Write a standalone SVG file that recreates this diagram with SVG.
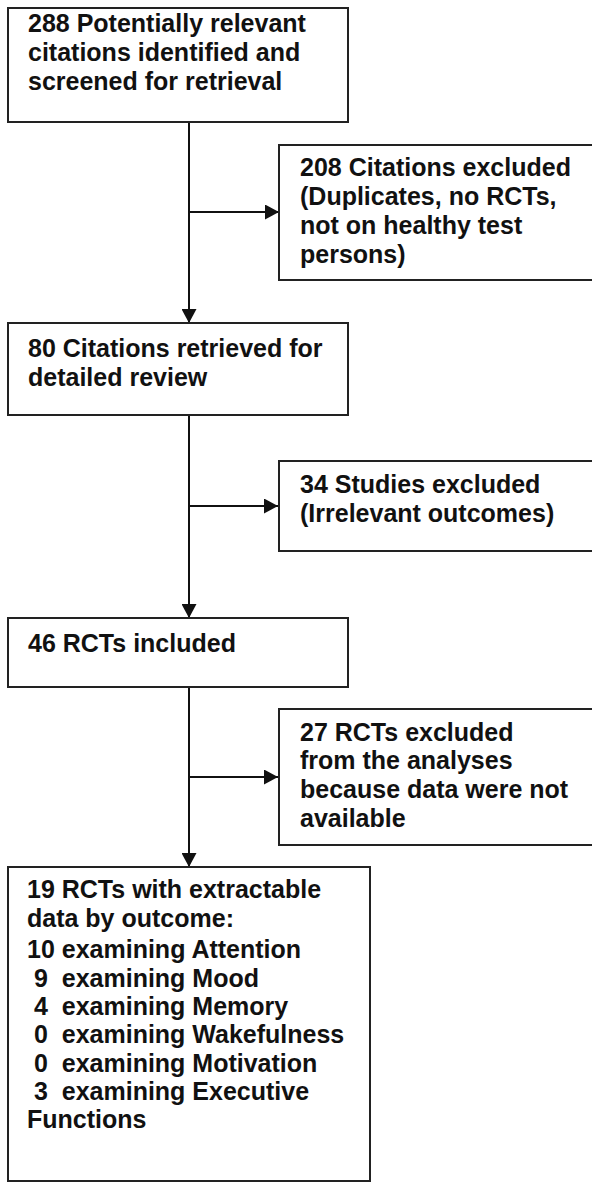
<svg xmlns="http://www.w3.org/2000/svg" width="592" height="1183" viewBox="0 0 592 1183">
<defs>
<style>
.box{fill:#fff;stroke:#222;stroke-width:2}
.t{font-family:"Liberation Sans",Arial,sans-serif;font-weight:bold;font-size:25px;fill:#111}
.c{stroke:#111;stroke-width:2;fill:none}
</style>
<marker id="ah" viewBox="0 0 14 15" refX="14" refY="7.5" markerWidth="14" markerHeight="15" markerUnits="userSpaceOnUse" orient="auto">
<path d="M0,0 L14,7.5 L0,15 Z" fill="#111"/>
</marker>
</defs>
<rect width="592" height="1183" fill="#fff"/>
<g id="connectors">
<line class="c" x1="189" y1="122" x2="189" y2="323" marker-end="url(#ah)"/>
<line class="c" x1="189" y1="212" x2="279" y2="212" marker-end="url(#ah)"/>
<line class="c" x1="189" y1="415" x2="189" y2="618" marker-end="url(#ah)"/>
<line class="c" x1="189" y1="506" x2="278" y2="506" marker-end="url(#ah)"/>
<line class="c" x1="189" y1="687" x2="189" y2="867" marker-end="url(#ah)"/>
<line class="c" x1="189" y1="777" x2="278" y2="777" marker-end="url(#ah)"/>
</g>
<g id="n1">
<rect class="box" x="8" y="8" width="340" height="114"/>
<text class="t" x="28" y="32">288 Potentially relevant</text>
<text class="t" x="28" y="61">citations identified and</text>
<text class="t" x="28" y="90">screened for retrieval</text>
</g>
<g id="n2">
<rect class="box" x="279" y="145" width="330" height="135"/>
<text class="t" x="300" y="176">208 Citations excluded</text>
<text class="t" x="300" y="205">(Duplicates, no RCTs,</text>
<text class="t" x="300" y="234">not on healthy test</text>
<text class="t" x="300" y="263">persons)</text>
</g>
<g id="n3">
<rect class="box" x="8" y="323" width="340" height="92"/>
<text class="t" x="28" y="357">80 Citations retrieved for</text>
<text class="t" x="28" y="386">detailed review</text>
</g>
<g id="n4">
<rect class="box" x="279" y="461" width="330" height="90"/>
<text class="t" x="300" y="493">34 Studies excluded</text>
<text class="t" x="300" y="522">(Irrelevant outcomes)</text>
</g>
<g id="n5">
<rect class="box" x="8" y="618" width="340" height="69"/>
<text class="t" x="28" y="652">46 RCTs included</text>
</g>
<g id="n6">
<rect class="box" x="279" y="709" width="330" height="136"/>
<text class="t" x="300" y="741">27 RCTs excluded</text>
<text class="t" x="300" y="769">from the analyses</text>
<text class="t" x="300" y="798">because data were not</text>
<text class="t" x="300" y="827">available</text>
</g>
<g id="n7">
<rect class="box" x="8" y="867" width="362" height="314"/>
<text class="t" x="27" y="898">19 RCTs with extractable</text>
<text class="t" x="27" y="927">data by outcome:</text>
<text class="t" x="27" y="958">10 examining Attention</text>
<text class="t" x="27" y="987" xml:space="preserve"> 9  examining Mood</text>
<text class="t" x="27" y="1015" xml:space="preserve"> 4  examining Memory</text>
<text class="t" x="27" y="1043" xml:space="preserve"> 0  examining Wakefulness</text>
<text class="t" x="27" y="1072" xml:space="preserve"> 0  examining Motivation</text>
<text class="t" x="27" y="1100" xml:space="preserve"> 3  examining Executive</text>
<text class="t" x="27" y="1128">Functions</text>
</g>
</svg>
